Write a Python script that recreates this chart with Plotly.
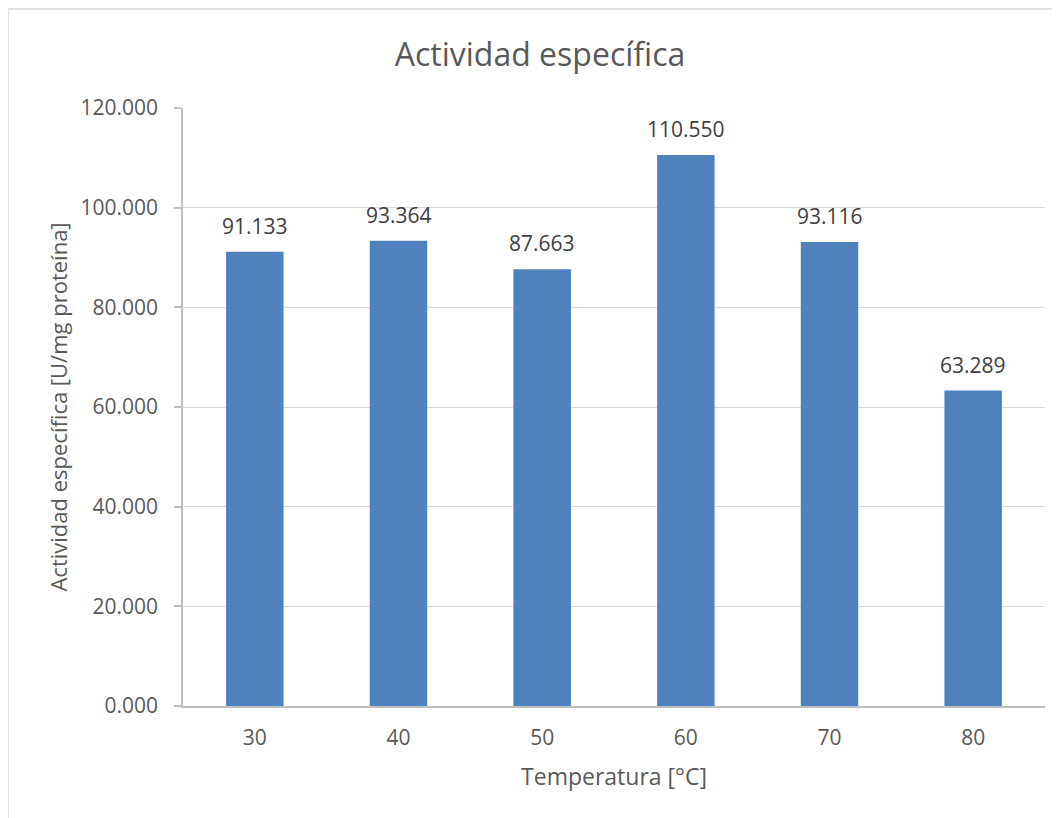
import plotly.graph_objects as go

categories = ["30", "40", "50", "60", "70", "80"]
values = [91.133, 93.364, 87.663, 110.550, 93.116, 63.289]
y_ticks = [0, 20, 40, 60, 80, 100, 120]
y_tick_labels = ["0.000", "20.000", "40.000", "60.000", "80.000", "100.000", "120.000"]

FONT = "Open Sans"
OFF = 8  # page body margin offset
W, H = 1060 - OFF, 818 - OFF
L, R, T, B = 183 - OFF, 15, 108 - OFF, 112
pw, ph = W - L - R, H - T - B

fig = go.Figure()
fig.add_trace(go.Bar(x=categories, y=values, marker=dict(color="#4f81bd", line=dict(width=0)),
                     hoverinfo="skip"))

for i, v in enumerate(values):
    fig.add_annotation(x=i, y=v, text=f"{v:.3f}", showarrow=False, yanchor="bottom",
                       yshift=10, font=dict(family=FONT, size=21, color="#404040"))

# chart-area border (top and left visible)
bx0 = (8 - 183) / pw
by1 = (706 - 9) / ph
fig.add_shape(type="rect", xref="paper", yref="paper", x0=bx0, x1=1.05, y0=-0.3, y1=by1,
              line=dict(color="#d9d9d9", width=1.5), layer="below")

fig.update_layout(
    width=W, height=H,
    margin=dict(l=L, r=R, t=T, b=B),
    paper_bgcolor="white", plot_bgcolor="white",
    bargap=0.6,
    showlegend=False,
    title=dict(text="Actividad específica", x=(540 - OFF) / W, xanchor="center", y=1 - (55 - OFF) / H, yanchor="middle",
               font=dict(family=FONT, size=32, color="#595959")),
    xaxis=dict(
        type="category", range=[-0.5, len(categories) - 0.5],
        showline=True, linecolor="#bfbfbf", linewidth=1.5,
        ticks="", tickfont=dict(family=FONT, size=21, color="#595959"),
        ticklabelstandoff=12,
        title=dict(text="Temperatura [°C]", font=dict(family=FONT, size=23, color="#595959"), standoff=19),
    ),
    yaxis=dict(
        range=[0, 120], tickvals=y_ticks, ticktext=y_tick_labels,
        showline=True, linecolor="#bfbfbf", linewidth=1.5,
        ticks="outside", ticklen=7, tickcolor="#bfbfbf", tickwidth=1.5,
        showgrid=True, gridcolor="#d9d9d9", gridwidth=1,
        zeroline=False,
        tickfont=dict(family=FONT, size=21, color="#595959"),
        ticklabelstandoff=12,
        title=dict(text="Actividad específica [U/mg proteína]", font=dict(family=FONT, size=22, color="#595959"), standoff=7),
    ),
)

fig.write_html("out.html")
